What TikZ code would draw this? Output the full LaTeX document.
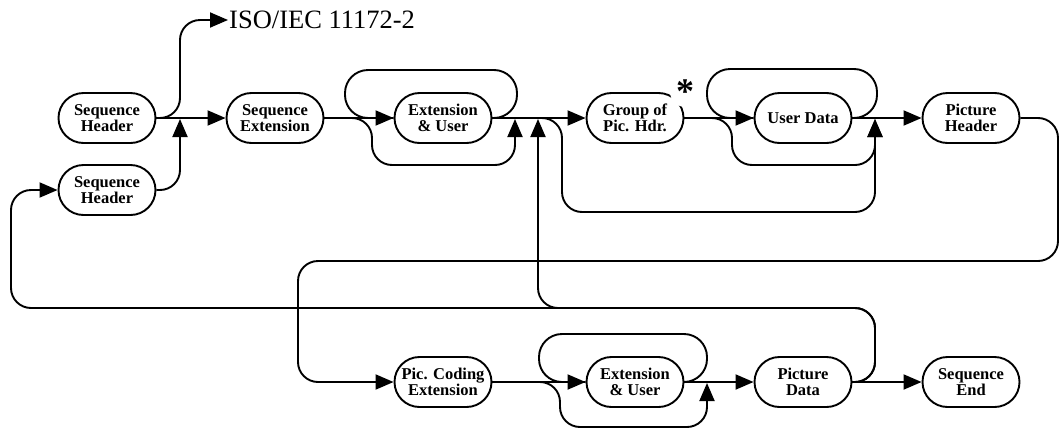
\documentclass[tikz,border=0pt]{standalone}
\usepackage{fontspec}
\setmainfont{Liberation Serif}
\usepackage{tikz}
\usetikzlibrary{arrows.meta}
\tikzstyle{term}=[draw,line width=1.9pt,rounded corners=25pt,minimum width=97pt,minimum height=50pt,inner sep=0pt,align=center,font=\fontsize{16.5}{16}\selectfont\bfseries]
\tikzstyle{edge} = [draw,line width=1.9pt,rounded corners=20pt]
\tikzstyle{loop} = [edge,rounded corners=23pt]
\tikzstyle{flow} = [edge,-{Triangle[length=18pt,width=15pt]}]

\begin{document}
\begin{tikzpicture}[x=1pt,y=-1pt]
    \useasboundingbox (0,0) rectangle (1061,429);
    % Draw the video sequence syntax
    % First we draw the boxes
    \foreach \pos/\name/\txt in {{(107,118)/sh1/Sequence\\Header}, {(107,190)/sh2/Sequence\\Header}, {(275,118)/se/Sequence\\Extension}, {(443,118)/eu1/Extension\\\& User}, {(635,118)/gop/Group of\\Pic. Hdr.}, {(803,118)/ud/User Data}, {(971,118)/ph/Picture\\Header}, {(443,382)/pce/Pic. Coding\\Extension}, {(635,382)/eu2/Extension\\\& User}, {(803,382)/pd/Picture\\Data}, {(971,382)/send/Sequence\\End}}
        \node[term] (\name) at \pos {\txt};
    \node[anchor=west,inner sep=1pt,font=\fontsize{26.5}{28}\selectfont] (iso) at (228,20) {ISO/IEC 11172-2};
    \node[circle,fill=white,minimum size=28pt,inner sep=0pt,font=\fontsize{36}{36}\selectfont\bfseries] (star) at (685,92) {\raisebox{-12pt}{*}};

    % Junctions and bends
    \coordinate (k1) at (180,20);
    \coordinate (j1) at (180,119);
    \coordinate (t1) at (517,70);
    \coordinate (t2) at (345,118);
    \coordinate (b1) at (372,165);
    \coordinate (b2) at (515,119);
    \coordinate (j2) at (538,119);
    \coordinate (d1) at (562,212);
    \coordinate (t3) at (877,69);
    \coordinate (t4) at (707,118);
    \coordinate (b3) at (732,165);
    \coordinate (j3) at (875,119);
    \coordinate (e1) at (1058,261);
    \coordinate (e2) at (298,382);
    \coordinate (t5) at (707,334);
    \coordinate (t6) at (539,382);
    \coordinate (b5) at (560,427);
    \coordinate (j5) at (707,383);
    \coordinate (c1) at (875,308);
    \coordinate (c2) at (11,190);

    % Connect boxes along the main line
    \foreach \source/ \dest in {sh1/se, se/eu1, eu1/gop, gop/ud, ud/ph, pce/eu2, eu2/pd, pd/send}
        \path[flow] (\source.east) -- (\dest.west);

    % Branches, loops and bypasses
    \path[flow] (sh1.east) -| (k1) -- (iso.west);
    \path[flow] (sh2.east) -| (j1);
    \path[loop] (eu1.east) -| (t1) -| (t2) -- (eu1.west);
    \path[flow] (se.east) -| (b1) -| (b2);
    \path[flow] (eu1.east) -| (d1) -| (j3);
    \path[loop] (ud.east) -| (t3) -| (t4) -- (ud.west);
    \path[flow] (gop.east) -| (b3) -| (j3);
    \path[flow] (ph.east) -| (e1) -| (e2) -- (pce.west);
    \path[loop] (eu2.east) -| (t5) -| (t6) -- (eu2.west);
    \path[flow] (pce.east) -| (b5) -| (j5);
    \path[flow] (pd.east) -| (c1) -| (c2) -- (sh2.west);
    \path[flow] (pd.east) -| (c1) -| (j2);
\end{tikzpicture}
\end{document}
